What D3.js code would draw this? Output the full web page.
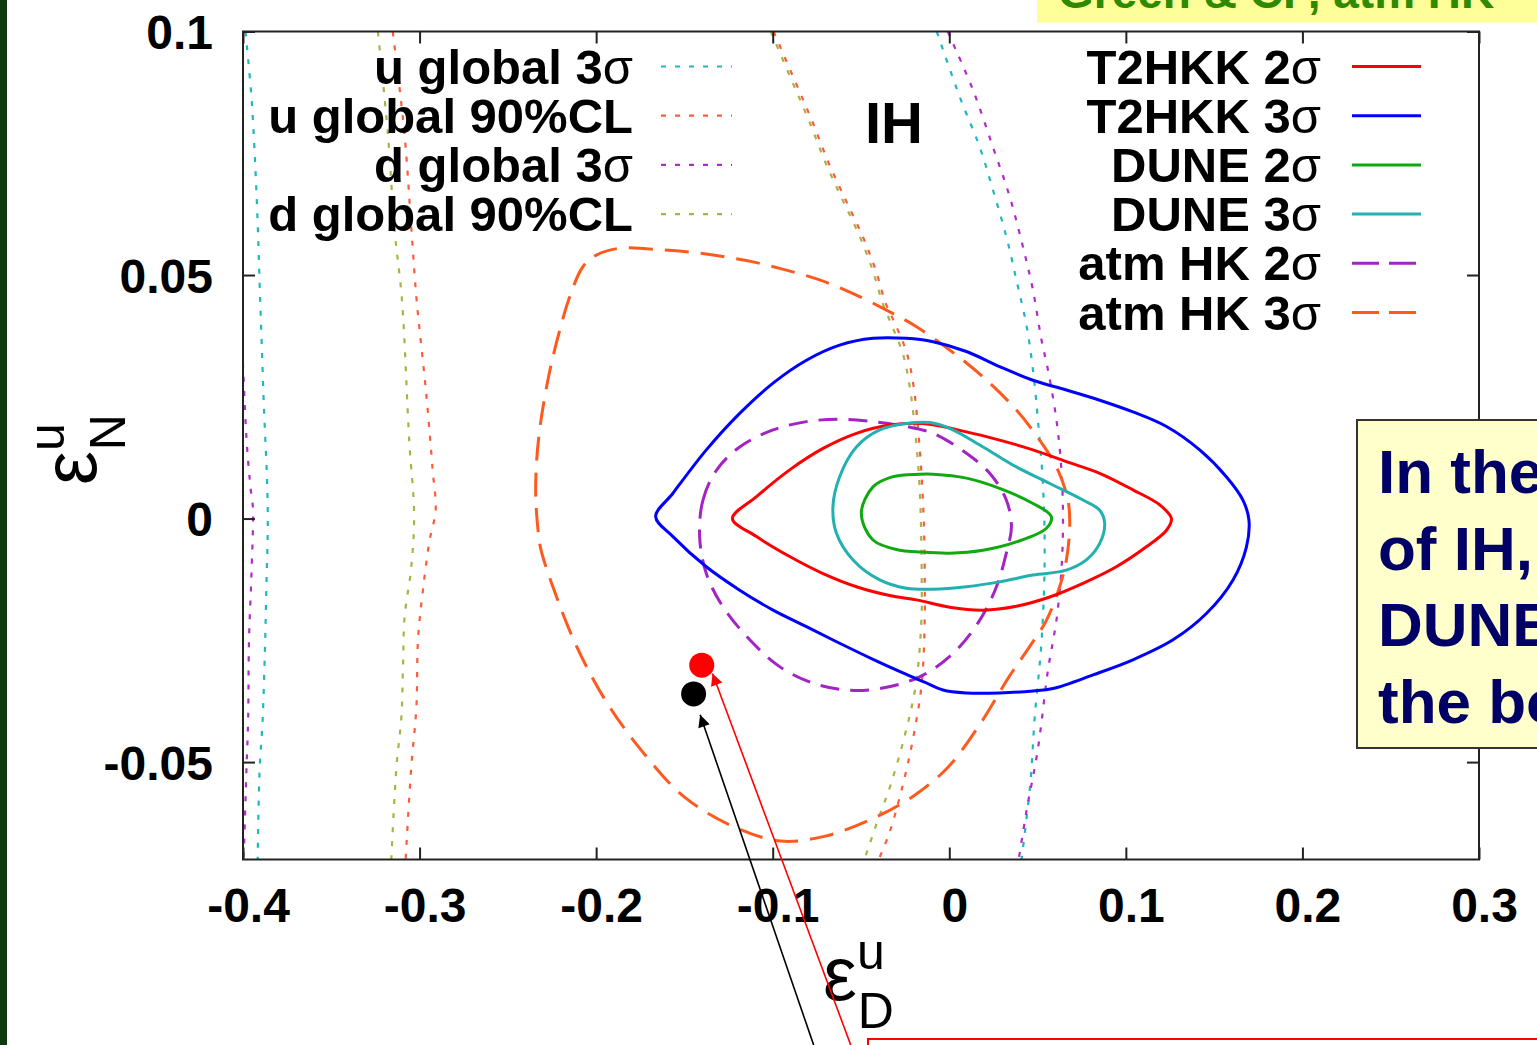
<!DOCTYPE html>
<html>
<head>
<meta charset="utf-8">
<script src="https://cdn.jsdelivr.net/npm/d3@7"></script>
<style>
  html, body { margin: 0; padding: 0; background: #fff; overflow: hidden; }
  svg { display: block; font-family: "Liberation Sans", Arial, sans-serif; }
</style>
</head>
<body>
<div id="contour_chart"></div>
<script>
// ---- data (epsilon_D^u, epsilon_N^u) ----
var xTicks = [-0.4, -0.3, -0.2, -0.1, 0, 0.1, 0.2, 0.3];
var xTickLabels = ["-0.4", "-0.3", "-0.2", "-0.1", "0", "0.1", "0.2", "0.3"];
var yTicks = [0.1, 0.05, 0, -0.05];
var yTickLabels = ["0.1", "0.05", "0", "-0.05"];

var legendLeft = ["u global 3σ", "u global 90%CL", "d global 3σ", "d global 90%CL"];
var legendRight = ["T2HKK 2σ", "T2HKK 3σ", "DUNE 2σ", "DUNE 3σ", "atm HK 2σ", "atm HK 3σ"];

// T2HKK 3 sigma
var t2hkk3 = [[-0.1663,0.0004],[-0.1565,0.0052],[-0.1376,0.0141],[-0.1187,0.0216],[-0.0998,0.0278],
  [-0.0809,0.0325],[-0.0621,0.0356],[-0.0432,0.0370],[-0.0243,0.0370],[-0.0092,0.0363],[0.0097,0.0343],
  [0.0285,0.0312],[0.0474,0.0284],[0.0663,0.0264],[0.0852,0.0243],[0.1040,0.0219],[0.1230,0.0189],
  [0.1418,0.0141],[0.1569,0.0086],[0.1663,0.0038],[0.1697,-0.0003],[0.1683,-0.0058],[0.1607,-0.0126],
  [0.1456,-0.0195],[0.1267,-0.0249],[0.1040,-0.0290],[0.0814,-0.0321],[0.0587,-0.0349],[0.0474,-0.0354],
  [0.0285,-0.0358],[0.0097,-0.0358],[-0.0036,-0.0352],[-0.0140,-0.0336],[-0.0243,-0.0320],[-0.0432,-0.0289],
  [-0.0621,-0.0256],[-0.0809,-0.0222],[-0.0998,-0.0188],[-0.1187,-0.0147],[-0.1376,-0.0099],[-0.1565,-0.0037]];

// T2HKK 2 sigma
var t2hkk2 = [[-0.1228,0.0000],[-0.1092,0.0045],[-0.0904,0.0100],[-0.0715,0.0144],[-0.0526,0.0175],
  [-0.0338,0.0192],[-0.0149,0.0195],[0.0097,0.0178],[0.0285,0.0161],[0.0474,0.0141],[0.0663,0.0117],
  [0.0852,0.0093],[0.1040,0.0059],[0.1192,0.0028],[0.1258,0.0000],[0.1230,-0.0024],[0.1116,-0.0058],
  [0.0946,-0.0099],[0.0757,-0.0133],[0.0569,-0.0161],[0.0380,-0.0180],[0.0191,-0.0188],[0.0002,-0.0182],
  [-0.0186,-0.0167],[-0.0338,-0.0158],[-0.0526,-0.0140],[-0.0715,-0.0113],[-0.0904,-0.0078],[-0.1092,-0.0037]];

// DUNE 3 sigma
var dune3 = [[-0.0659,0.0024],[-0.0621,0.0086],[-0.0526,0.0147],[-0.0394,0.0182],[-0.0243,0.0195],
  [-0.0111,0.0197],[0.0002,0.0185],[0.0191,0.0147],[0.0380,0.0106],[0.0569,0.0072],[0.0757,0.0038],
  [0.0852,0.0017],[0.0880,-0.0010],[0.0852,-0.0051],[0.0776,-0.0085],[0.0663,-0.0106],[0.0474,-0.0116],
  [0.0285,-0.0130],[0.0097,-0.0140],[-0.0092,-0.0145],[-0.0243,-0.0143],[-0.0394,-0.0126],[-0.0545,-0.0085],
  [-0.0639,-0.0030]];

// DUNE 2 sigma
var dune2 = [[-0.0498,0.0011],[-0.0432,0.0065],[-0.0319,0.0086],[-0.0168,0.0091],[-0.0092,0.0091],
  [0.0097,0.0083],[0.0285,0.0062],[0.0474,0.0031],[0.0578,0.0004],[0.0550,-0.0020],[0.0380,-0.0048],
  [0.0191,-0.0065],[0.0002,-0.0071],[-0.0186,-0.0068],[-0.0281,-0.0065],[-0.0432,-0.0044]];

// atm HK 2 sigma
var atmHK2 = [[-0.1414,-0.0037],[-0.1395,0.0038],[-0.1319,0.0099],[-0.1187,0.0147],[-0.0998,0.0182],
  [-0.0809,0.0199],[-0.0621,0.0204],[-0.0432,0.0199],[-0.0243,0.0189],[-0.0092,0.0175],[0.0097,0.0134],
  [0.0229,0.0093],[0.0323,0.0038],[0.0352,-0.0017],[0.0323,-0.0071],[0.0267,-0.0140],[0.0172,-0.0209],
  [0.0021,-0.0277],[-0.0168,-0.0325],[-0.0394,-0.0349],[-0.0583,-0.0352],[-0.0772,-0.0338],[-0.0961,-0.0304],
  [-0.1130,-0.0249],[-0.1282,-0.0181],[-0.1376,-0.0113]];

// atm HK 3 sigma
var atmHK3 = [[-0.2329,-0.0024],[-0.2342,0.0045],[-0.2338,0.0113],[-0.2320,0.0182],[-0.2291,0.0250],
  [-0.2253,0.0319],[-0.2206,0.0387],[-0.2150,0.0455],[-0.2075,0.0517],[-0.1999,0.0541],[-0.1867,0.0555],
  [-0.1678,0.0553],[-0.1489,0.0548],[-0.1300,0.0539],[-0.1112,0.0527],[-0.0923,0.0510],[-0.0734,0.0490],
  [-0.0545,0.0462],[-0.0356,0.0428],[-0.0186,0.0394],[0.0002,0.0346],[0.0191,0.0291],[0.0380,0.0223],
  [0.0512,0.0161],[0.0607,0.0106],[0.0672,0.0038],[0.0682,-0.0017],[0.0663,-0.0085],[0.0625,-0.0140],
  [0.0550,-0.0209],[0.0455,-0.0263],[0.0338,-0.0325],[0.0176,-0.0421],[-0.0006,-0.0510],[-0.0208,-0.0571],
  [-0.0451,-0.0619],[-0.0714,-0.0653],[-0.0957,-0.0662],[-0.1219,-0.0633],[-0.1503,-0.0571],[-0.1746,-0.0475],
  [-0.1948,-0.0373],[-0.2110,-0.0263],[-0.2231,-0.0154],[-0.2312,-0.0065]];

// global fits (open curves, clipped by the frame)
var uGlobal3Left = [[-0.3986,0.1000],[-0.3951,0.0859],[-0.3922,0.0654],[-0.3904,0.0463],[-0.3883,0.0243],
  [-0.3860,0.0020],[-0.3868,-0.0146],[-0.3877,-0.0284],[-0.3889,-0.0414],[-0.3906,-0.0516],[-0.3917,-0.0700]];
var uGlobal3Right = [[-0.0071,0.1000],[0.0059,0.0866],[0.0172,0.0763],[0.0247,0.0675],[0.0323,0.0579],
  [0.0380,0.0490],[0.0437,0.0397],[0.0474,0.0305],[0.0502,0.0202],[0.0531,0.0065],[0.0540,-0.0085],
  [0.0523,-0.0249],[0.0484,-0.0407],[0.0459,-0.0543],[0.0409,-0.0700]];
var uGlobal90Left = [[-0.3152,0.1000],[-0.3086,0.0792],[-0.3045,0.0587],[-0.3017,0.0450],[-0.2962,0.0255],
  [-0.2926,0.0100],[-0.2909,0.0017],[-0.2943,-0.0044],[-0.2981,-0.0147],[-0.3009,-0.0249],[-0.3018,-0.0387],
  [-0.3047,-0.0510],[-0.3079,-0.0700]];
var uGlobal90Right = [[-0.0995,0.1000],[-0.0876,0.0900],[-0.0779,0.0818],[-0.0683,0.0730],[-0.0587,0.0654],
  [-0.0490,0.0579],[-0.0417,0.0510],[-0.0360,0.0442],[-0.0303,0.0397],[-0.0241,0.0340],[-0.0202,0.0271],
  [-0.0173,0.0168],[-0.0153,0.0065],[-0.0142,-0.0037],[-0.0139,-0.0140],[-0.0139,-0.0202],[-0.0156,-0.0338],
  [-0.0207,-0.0455],[-0.0270,-0.0557],[-0.0340,-0.0646],[-0.0400,-0.0700]];
var dGlobal3Left = [[-0.4007,0.0377],[-0.3979,0.0157],[-0.3956,0.0059],[-0.3944,0.0022],[-0.3952,-0.0112],
  [-0.3966,-0.0249],[-0.3971,-0.0414],[-0.3980,-0.0510],[-0.3995,-0.0681],[-0.3998,-0.0700]];
var dGlobal3Right = [[-0.0009,0.1000],[0.0012,0.0983],[0.0134,0.0880],[0.0247,0.0763],[0.0342,0.0661],
  [0.0417,0.0558],[0.0474,0.0469],[0.0522,0.0367],[0.0559,0.0305],[0.0607,0.0202],[0.0635,0.0100],
  [0.0644,-0.0003],[0.0635,-0.0106],[0.0607,-0.0208],[0.0559,-0.0311],[0.0501,-0.0475],[0.0438,-0.0599],
  [0.0393,-0.0700]];
var dGlobal90Left = [[-0.3236,0.1000],[-0.3180,0.0792],[-0.3140,0.0587],[-0.3100,0.0450],[-0.3058,0.0156],
  [-0.3031,0.0009],[-0.3047,-0.0100],[-0.3085,-0.0202],[-0.3094,-0.0305],[-0.3103,-0.0408],[-0.3131,-0.0510],
  [-0.3160,-0.0700]];
var dGlobal90Right = [[-0.1011,0.1000],[-0.0893,0.0900],[-0.0796,0.0818],[-0.0700,0.0730],[-0.0604,0.0654],
  [-0.0507,0.0579],[-0.0434,0.0510],[-0.0377,0.0442],[-0.0326,0.0397],[-0.0264,0.0340],[-0.0224,0.0271],
  [-0.0190,0.0168],[-0.0168,0.0065],[-0.0159,-0.0037],[-0.0156,-0.0140],[-0.0157,-0.0202],[-0.0188,-0.0338],
  [-0.0249,-0.0441],[-0.0330,-0.0544],[-0.0411,-0.0626],[-0.0481,-0.0700]];

// best fit points and the arrows pointing at them
var bestFit = [[-0.1402, -0.0301], [-0.1448, -0.0360]];
var arrowTips = [[-0.1341, -0.0318], [-0.1411, -0.0403]];
var arrowTails = [[-0.0558, -0.1081], [-0.0768, -0.1081]];

// slide texts (cut by the slide edge in the source)
var headerText = "Green & CP, atm HK";
var noteLines = ["In the", "of IH,", "DUNE", "the bo"];

// ---- drawing ----
var W = 1537, H = 1045;
var frame = { left: 243, right: 1479, top: 31.5, bottom: 859.5 };

var svg = d3.select("#contour_chart").append("svg")
  .attr("width", W).attr("height", H);

svg.append("rect").attr("width", W).attr("height", H).attr("fill", "#fff");

var x = d3.scaleLinear().domain([-0.4, 0.3]).range([frame.left, frame.right]);
var y = d3.scaleLinear().domain([-0.07, 0.1]).range([frame.bottom, frame.top]);

svg.append("clipPath").attr("id", "plotclip")
  .append("rect")
  .attr("x", frame.left).attr("y", frame.top)
  .attr("width", frame.right - frame.left).attr("height", frame.bottom - frame.top);

var openLine = d3.line().x(d => x(d[0])).y(d => y(d[1])).curve(d3.curveCatmullRom.alpha(0.5));
var closedLine = d3.line().x(d => x(d[0])).y(d => y(d[1])).curve(d3.curveCatmullRomClosed.alpha(0.5));

var plot = svg.append("g").attr("clip-path", "url(#plotclip)");

// dotted global bounds
var dotted = [
  { data: [uGlobal3Left, uGlobal3Right], color: "#1db8c2" },
  { data: [uGlobal90Left, uGlobal90Right], color: "#ff5a3a" },
  { data: [dGlobal3Left, dGlobal3Right], color: "#b02cc8" },
  { data: [dGlobal90Left, dGlobal90Right], color: "#aab244" }
];
dotted.forEach(function (s) {
  s.data.forEach(function (branch) {
    plot.append("path")
      .attr("d", openLine(branch))
      .attr("fill", "none")
      .attr("stroke", s.color)
      .attr("stroke-width", 2.2)
      .attr("stroke-dasharray", "5,9");
  });
});

// contours
var contours = [
  { data: atmHK3, color: "#ff5a1e", dash: "24,12" },
  { data: atmHK2, color: "#a323c4", dash: "19,11" },
  { data: t2hkk3, color: "#0000ff", dash: null },
  { data: t2hkk2, color: "#ff0000", dash: null },
  { data: dune3, color: "#22b0b0", dash: null },
  { data: dune2, color: "#10aa10", dash: null }
];
contours.forEach(function (c) {
  plot.append("path")
    .attr("d", closedLine(c.data))
    .attr("fill", "none")
    .attr("stroke", c.color)
    .attr("stroke-width", 3)
    .attr("stroke-dasharray", c.dash);
});

// frame and ticks
svg.append("rect")
  .attr("x", frame.left).attr("y", frame.top)
  .attr("width", frame.right - frame.left).attr("height", frame.bottom - frame.top)
  .attr("fill", "none").attr("stroke", "#222").attr("stroke-width", 2);

var fmtX = d => xTickLabels[xTicks.indexOf(d)];
var fmtY = d => yTickLabels[yTicks.indexOf(d)];

var axB = svg.append("g").attr("transform", `translate(0,${frame.bottom})`)
  .call(d3.axisBottom(x).tickValues(xTicks).tickFormat(fmtX).tickSize(-12).tickPadding(28));
var axL = svg.append("g").attr("transform", `translate(${frame.left},0)`)
  .call(d3.axisLeft(y).tickValues(yTicks).tickFormat(fmtY).tickSize(-12).tickPadding(30));
svg.append("g").attr("transform", `translate(0,${frame.top})`)
  .call(d3.axisTop(x).tickValues(xTicks).tickFormat("").tickSize(-12));
svg.append("g").attr("transform", `translate(${frame.right},0)`)
  .call(d3.axisRight(y).tickValues(yTicks).tickFormat("").tickSize(-12));

svg.selectAll(".domain").remove();
svg.selectAll(".tick line").attr("stroke", "#222").attr("stroke-width", 2);
axB.selectAll("text").attr("font-size", 48).attr("font-weight", "bold").attr("fill", "#000")
  .attr("font-family", "Liberation Sans, Arial, sans-serif").attr("dx", 5);
axL.selectAll("text").attr("font-size", 48).attr("font-weight", "bold").attr("fill", "#000")
  .attr("font-family", "Liberation Sans, Arial, sans-serif").attr("dy", "0.36em");

// axis titles
var xt = svg.append("text").attr("x", 823).attr("y", 1000).attr("fill", "#000");
xt.append("tspan").attr("font-size", 76).text("ε");
xt.append("tspan").attr("font-size", 50).attr("dy", -31).text("u");
xt.append("tspan").attr("font-size", 50).attr("dx", -27).attr("dy", 59).text("D");

var yt = svg.append("text").attr("transform", "translate(96,485) rotate(-90)").attr("fill", "#000");
yt.append("tspan").attr("font-size", 76).text("ε");
yt.append("tspan").attr("font-size", 50).attr("dy", -32).text("u");
yt.append("tspan").attr("font-size", 50).attr("dx", -27).attr("dy", 61).text("N");

svg.append("text").attr("x", 865).attr("y", 143)
  .attr("font-size", 58).attr("font-weight", "bold").text("IH");

// legends
function legendText(g, label, tx, ty) {
  var t = g.append("text").attr("x", tx).attr("y", ty)
    .attr("text-anchor", "end").attr("font-size", 49).attr("font-weight", "bold").attr("fill", "#000");
  if (label.slice(-1) === "σ") {
    t.append("tspan").text(label.slice(0, -1));
    t.append("tspan").attr("font-weight", "normal").text("σ");
  } else {
    t.text(label);
  }
}
var rowY = d3.scaleLinear().domain([0, 1]).range([66.5, 115.7]);
var lg = svg.append("g");
legendLeft.forEach(function (label, i) {
  legendText(lg, label, 633, rowY(i) + 17);
  lg.append("line")
    .attr("x1", 661).attr("x2", 732).attr("y1", rowY(i)).attr("y2", rowY(i))
    .attr("stroke", dotted[i].color).attr("stroke-width", 2.2).attr("stroke-dasharray", "5,9");
});
var rightStyles = [contours[3], contours[2], contours[5], contours[4], contours[1], contours[0]];
legendRight.forEach(function (label, i) {
  legendText(lg, label, 1321, rowY(i) + 17);
  lg.append("line")
    .attr("x1", 1352).attr("x2", 1421).attr("y1", rowY(i)).attr("y2", rowY(i))
    .attr("stroke", rightStyles[i].color).attr("stroke-width", 3)
    .attr("stroke-dasharray", rightStyles[i].dash ? "27,10" : null);
});

// arrows and best-fit points
var defs = svg.append("defs");
[["arrRed", "#ff0000"], ["arrBlack", "#000"]].forEach(function (m) {
  defs.append("marker").attr("id", m[0])
    .attr("viewBox", "0 0 10 10").attr("refX", 10).attr("refY", 5)
    .attr("markerWidth", 16).attr("markerHeight", 12).attr("markerUnits", "userSpaceOnUse")
    .attr("orient", "auto")
    .append("path").attr("d", "M0,0 L10,5 L0,10 Z").attr("fill", m[1]);
});
var arrowColors = ["#ff0000", "#000"];
arrowTips.forEach(function (tip, i) {
  svg.append("line")
    .attr("x1", x(arrowTails[i][0])).attr("y1", y(arrowTails[i][1]))
    .attr("x2", x(tip[0])).attr("y2", y(tip[1]))
    .attr("stroke", arrowColors[i]).attr("stroke-width", 1.6)
    .attr("marker-end", i === 0 ? "url(#arrRed)" : "url(#arrBlack)");
});
svg.selectAll("circle.bf").data(bestFit).enter().append("circle")
  .attr("class", "bf")
  .attr("cx", d => x(d[0])).attr("cy", d => y(d[1]))
  .attr("r", 12.5)
  .attr("fill", (d, i) => arrowColors[i]);

// slide decorations
svg.append("rect").attr("x", 0).attr("y", 0).attr("width", 7).attr("height", H).attr("fill", "#0b3b0b");

svg.append("rect").attr("x", 1037).attr("y", -2).attr("width", 520).attr("height", 24.5)
  .attr("fill", "#ffff99");
svg.append("text").attr("x", 1058).attr("y", 8)
  .attr("font-size", 46).attr("font-weight", "bold").attr("fill", "#2e8b00").text(headerText);

svg.append("rect").attr("x", 1357).attr("y", 420).attr("width", 200).attr("height", 328)
  .attr("fill", "#ffffcc").attr("stroke", "#333").attr("stroke-width", 2);
noteLines.forEach(function (line, i) {
  svg.append("text").attr("x", 1378).attr("y", 493 + i * 76.7)
    .attr("font-size", 62).attr("font-weight", "bold").attr("fill", "#000066").text(line);
});

svg.append("rect").attr("x", 868).attr("y", 1039).attr("width", 700).attr("height", 30)
  .attr("fill", "#fff").attr("stroke", "#ff0000").attr("stroke-width", 2);
</script>
</body>
</html>
